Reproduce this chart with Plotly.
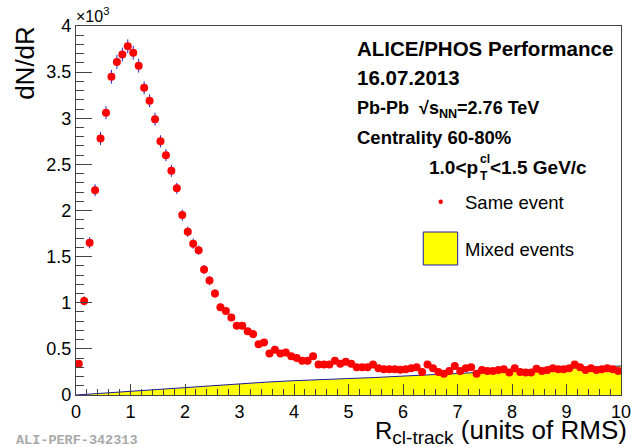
import plotly.graph_objects as go

# ---------------- data ----------------
bin_centers = [round(0.05 + 0.1 * i, 2) for i in range(100)]
same_event = [
    0.34, 1.02, 1.65, 2.22, 2.78, 3.06, 3.45, 3.61, 3.69, 3.78,
    3.71, 3.57, 3.33, 3.19, 2.99, 2.75, 2.60, 2.43, 2.24, 1.95,
    1.77, 1.64, 1.57, 1.36, 1.24, 1.10, 0.95, 0.91, 0.84, 0.75,
    0.75, 0.69, 0.66, 0.55, 0.57, 0.45, 0.49, 0.45, 0.46, 0.42,
    0.40, 0.37, 0.37, 0.42, 0.33, 0.33, 0.33, 0.37, 0.34, 0.36,
    0.34, 0.30, 0.30, 0.30, 0.33, 0.29, 0.28, 0.28, 0.28, 0.275,
    0.28, 0.29, 0.30, 0.25, 0.33, 0.29, 0.25, 0.23, 0.26, 0.315,
    0.26, 0.29, 0.30, 0.23, 0.27, 0.26, 0.26, 0.27, 0.28, 0.245,
    0.29, 0.25, 0.245, 0.245, 0.285, 0.26, 0.27, 0.29, 0.28, 0.28,
    0.29, 0.33, 0.30, 0.27, 0.29, 0.27, 0.28, 0.29, 0.28, 0.26,
]
same_event_err = [
    0.03, 0.05, 0.06, 0.065, 0.07, 0.07, 0.075, 0.075, 0.075, 0.075,
    0.075, 0.075, 0.07, 0.07, 0.07, 0.065, 0.065, 0.065, 0.06, 0.06,
    0.055, 0.055, 0.05, 0.05, 0.05, 0.045, 0.04, 0.04, 0.04, 0.035,
] + [0.03] * 70

mixed_x = [0, 0.5, 1, 1.5, 2, 2.5, 3, 3.5, 4, 4.5, 5, 5.5, 6, 6.5, 7, 7.5, 8, 8.5, 9, 9.5, 10]
mixed_y = [0, 0.02, 0.045, 0.065, 0.085, 0.105, 0.125, 0.14, 0.155, 0.165, 0.175,
           0.19, 0.205, 0.22, 0.235, 0.25, 0.26, 0.275, 0.29, 0.30, 0.315]

# ---------------- layout geometry ----------------
W, H = 643, 447
L, R, T, B = 76, 13, 26, 52
PW, PH = W - L - R, H - T - B
FONT = "Liberation Sans, Arial, Helvetica, sans-serif"


def px(X):
    return (X - L) / PW


def py(Y):
    return (H - B - Y) / PH


fig = go.Figure()

fig.add_trace(go.Scatter(
    x=mixed_x, y=mixed_y, mode="lines", fill="tozeroy",
    fillcolor="#ffff00", line=dict(color="#1a1aa0", width=1),
    hoverinfo="skip",
))

fig.add_trace(go.Scatter(
    x=bin_centers, y=same_event, mode="markers",
    marker=dict(color="#ff0000", size=8, line=dict(width=0)),
    error_y=dict(type="data", array=same_event_err, color="#2020d0", thickness=1, width=0),
))

axis_common = dict(
    showgrid=False, zeroline=False, showline=True, linecolor="#444444", linewidth=1.3,
    mirror=True, ticks="inside", tickcolor="#444444", tickwidth=1.2,
    tickfont=dict(family=FONT, size=18, color="#000000"),
)

fig.update_xaxes(range=[0, 10], dtick=1, tick0=0, ticklen=11,
                 minor=dict(dtick=0.2, ticklen=6, ticks="inside", tickcolor="#444444", tickwidth=1),
                 **axis_common)
fig.update_yaxes(range=[0, 4], dtick=0.5, tick0=0, ticklen=16,
                 minor=dict(dtick=0.1, ticklen=8, ticks="inside", tickcolor="#444444", tickwidth=1),
                 **axis_common)


def A(text, X, Y, size, xanchor="left", yanchor="middle", color="#000", family=FONT, **kw):
    d = dict(text=text, x=px(X), y=py(Y), xanchor=xanchor, yanchor=yanchor,
             xref="paper", yref="paper", showarrow=False,
             font=dict(family=family, size=size, color=color))
    d.update(kw)
    return d


xtitle = ("R<sub><span style='font-size:19px'>cl-track</span></sub>"
          "<span style='font-size:26px'> (units of RMS)</span>")

ann = [
    # axis titles
    A("dN/dR", 24, 24, 26, xanchor="center", yanchor="top", textangle=-90),
    A("×10<sup>3</sup>", 74, 15, 16),
    A(xtitle, 637, 431, 24, xanchor="right", borderpad=0),
    # watermark
    A("<b>ALI-PERF-342313</b>", 13, 440, 13.5, color="#a8a8a8",
      family="Liberation Mono, Courier New, monospace"),
    # info text
    A("<b>ALICE/PHOS Performance</b>", 360, 48, 20.5),
    A("<b>16.07.2013</b>", 360, 77, 20.5),
    A("<b>Pb-Pb  √s<sub>NN</sub>=2.76 TeV</b>", 360, 109, 18),
    A("<b>Centrality 60-80%</b>", 360, 137, 18.5),
    A("<b>1.0&lt;p</b>", 487, 167, 19, xanchor="right"),
    A("<b>cl</b>", 485, 159, 12),
    A("<b>T</b>", 485, 176, 12),
    A("<b>&lt;1.5 GeV/c</b>", 495, 167, 19),
    A("Same event", 469, 202, 18.5),
    A("Mixed events", 469, 249, 18.5),
]

shapes = [
    dict(type="circle", xref="paper", yref="paper", x0=px(444.5), x1=px(449), y0=py(204), y1=py(199.5),
         fillcolor="#ff0000", line=dict(width=0)),
    dict(type="rect", xref="paper", yref="paper", x0=px(429), x1=px(464), y0=py(265), y1=py(232),
         fillcolor="#ffff00", line=dict(color="#1a1aa0", width=1)),
]

fig.update_layout(
    width=W, height=H, margin=dict(l=L, r=R, t=T, b=B),
    paper_bgcolor="#ffffff", plot_bgcolor="#ffffff",
    showlegend=False, annotations=ann, shapes=shapes,
    font=dict(family=FONT),
)

fig.write_html("out.html")
